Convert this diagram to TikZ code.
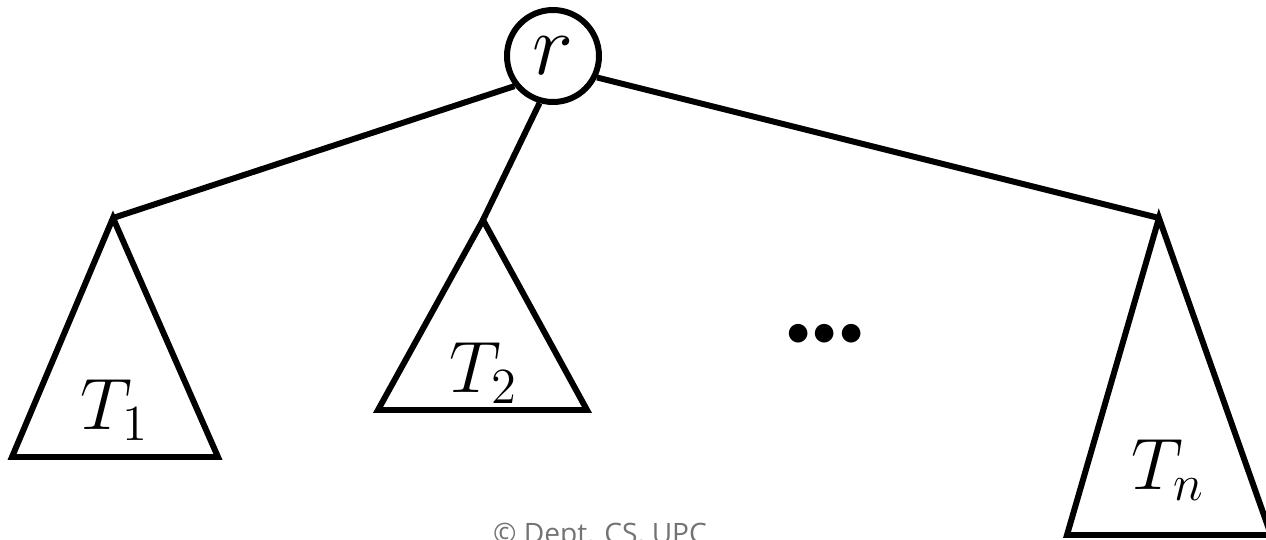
\documentclass[tikz,border=0pt]{standalone}
\usepackage{fontspec}
\setmainfont{Carlito}
\newfontfamily\notefont{Open Sans}
\usepackage{tikz}
\usetikzlibrary{positioning}

\begin{document}
\begin{tikzpicture}[
  root/.style={draw, circle, line width=1.7pt, minimum size=0.92cm, inner sep=0pt, font=\fontsize{24}{28}\selectfont},
  sub/.style={draw, line width=1.7pt},
  edge/.style={line width=1.7pt},
  lbl/.style={font=\fontsize{21}{25}\selectfont, inner sep=0pt},
  dots/.style={font=\fontsize{15}{18}\selectfont, inner sep=0pt},
  note/.style={font=\notefont\fontsize{8}{10}\selectfont, text=black!55, inner sep=0pt}
]
\useasboundingbox (0,0) rectangle (12.66,5.39);

% Raiz
\node[root] (r) at (5.53, 4.83) {$r$};

% Subarboles
\coordinate (t1) at (1.13, 3.21);
\coordinate (t2) at (4.83, 3.19);
\coordinate (tn) at (11.59, 3.21);
\draw[sub] (t1) -- (0.12, 0.82) -- (2.18, 0.82) -- cycle;
\draw[sub] (t2) -- (3.78, 1.29) -- (5.87, 1.29) -- cycle;
\draw[sub] (tn) -- (10.67, 0.04) -- (12.71, 0.04) -- cycle;
\node[lbl] (l1) at (1.15, 1.29) {$T_1$};
\node[lbl] (l2) at (4.84, 1.66) {$T_2$};
\node[lbl] (ln) at (11.68, 0.69) {$T_n$};

% Aristas
\draw[edge] (r.218) -- (t1);
\draw[edge] (r.254) -- (t2);
\draw[edge] (r.334) -- (tn);

\node[dots] (d) at (8.25, 2.03) {•••};
\node[note, anchor=base] (c) at (6.0, -0.04) {© Dept. CS, UPC};
\end{tikzpicture}
\end{document}
